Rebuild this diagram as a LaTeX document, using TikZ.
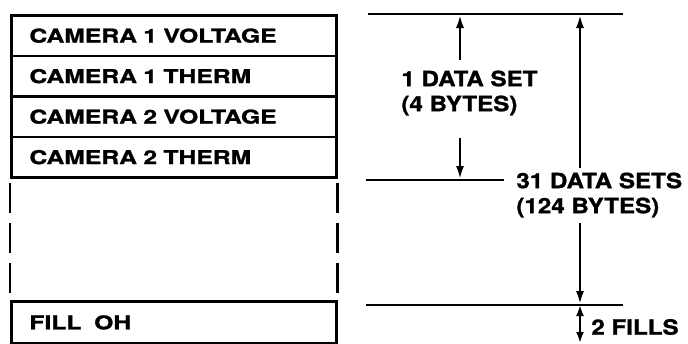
\documentclass[tikz,border=0pt]{standalone}
\usepackage{fontspec}
\setmainfont{TeX Gyre Heros}
\newfontfamily\boxfont[FakeStretch=1.3,FakeBold=1.2]{TeX Gyre Heros}
\newfontfamily\labfont[FakeStretch=1.15,FakeBold=1.2]{TeX Gyre Heros}
\usetikzlibrary{positioning,arrows.meta}

\begin{document}
\begin{tikzpicture}[x=1pt,y=-1pt,line width=2.8pt]

    \tikzset{field/.style={rectangle, draw, anchor=north west, minimum width=325pt,
        minimum height=40.5pt, text width=289pt, inner xsep=18pt, inner ysep=0pt, align=left,
        font=\boxfont\bfseries\fontsize{19}{21}\selectfont}}
    \tikzset{lab/.style={anchor=west, align=left, inner sep=0pt,
        font=\labfont\bfseries\fontsize{21}{25}\selectfont}}
    \tikzset{dim/.style={-{Latex[length=14pt,width=8pt]}}}

    \useasboundingbox (0,0) rectangle (688,343);

    % DATA SET FIELDS
    \node(c1v) at (10,14) [field] {CAMERA 1 VOLTAGE};
    \node(c1t) at (10,54.5) [field] {CAMERA 1 THERM};
    \node(c2v) at (10,95) [field] {CAMERA 2 VOLTAGE};
    \node(c2t) at (10,135.5) [field] {CAMERA 2 THERM};

    % FILL FIELD
    \node(fill) at (10,300) [field, minimum height=42pt] {FILL\ \ OH};

    % OMITTED DATA SETS
    \draw[dash pattern=on 30pt off 10pt, dash phase=36pt] (c2t.south west) -- (fill.north west);
    \draw[dash pattern=on 30pt off 10pt, dash phase=36pt] (c2t.south east) -- (fill.north east);

    % EXTENSION LINES
    \coordinate (l1a) at (368,14);
    \coordinate (l1b) at (623,14);
    \coordinate (l2a) at (366,180);
    \coordinate (l2b) at (504,180);
    \coordinate (l3a) at (366,305);
    \coordinate (l3b) at (623,305);
    \draw (l1a) -- (l1b);
    \draw (l2a) -- (l2b);
    \draw (l3a) -- (l3b);

    % LABELS
    \node(ds1) at (400,93) [lab] {1 DATA SET\\(4 BYTES)};
    \node(ds31) at (515,195) [lab] {31 DATA SETS\\(124 BYTES)};
    \node(fills) at (590,327) [lab] {2 FILLS};

    % DIMENSION ARROWS
    \coordinate (a1u) at (460,60);
    \coordinate (a1t) at (460,14);
    \coordinate (a1d) at (460,138);
    \coordinate (a1b) at (460,180);
    \draw[dim] (a1u) -- (a1t);
    \draw[dim] (a1d) -- (a1b);

    \coordinate (a2u) at (580,168);
    \coordinate (a2t) at (580,14);
    \coordinate (a2d) at (580,223);
    \coordinate (a2b) at (580,305);
    \draw[dim] (a2u) -- (a2t);
    \draw[dim] (a2d) -- (a2b);

    \coordinate (a3b) at (580,343);
    \draw[{Latex[length=11pt,width=8pt]}-{Latex[length=11pt,width=8pt]}] (a2b) -- (a3b);

\end{tikzpicture}
\end{document}
